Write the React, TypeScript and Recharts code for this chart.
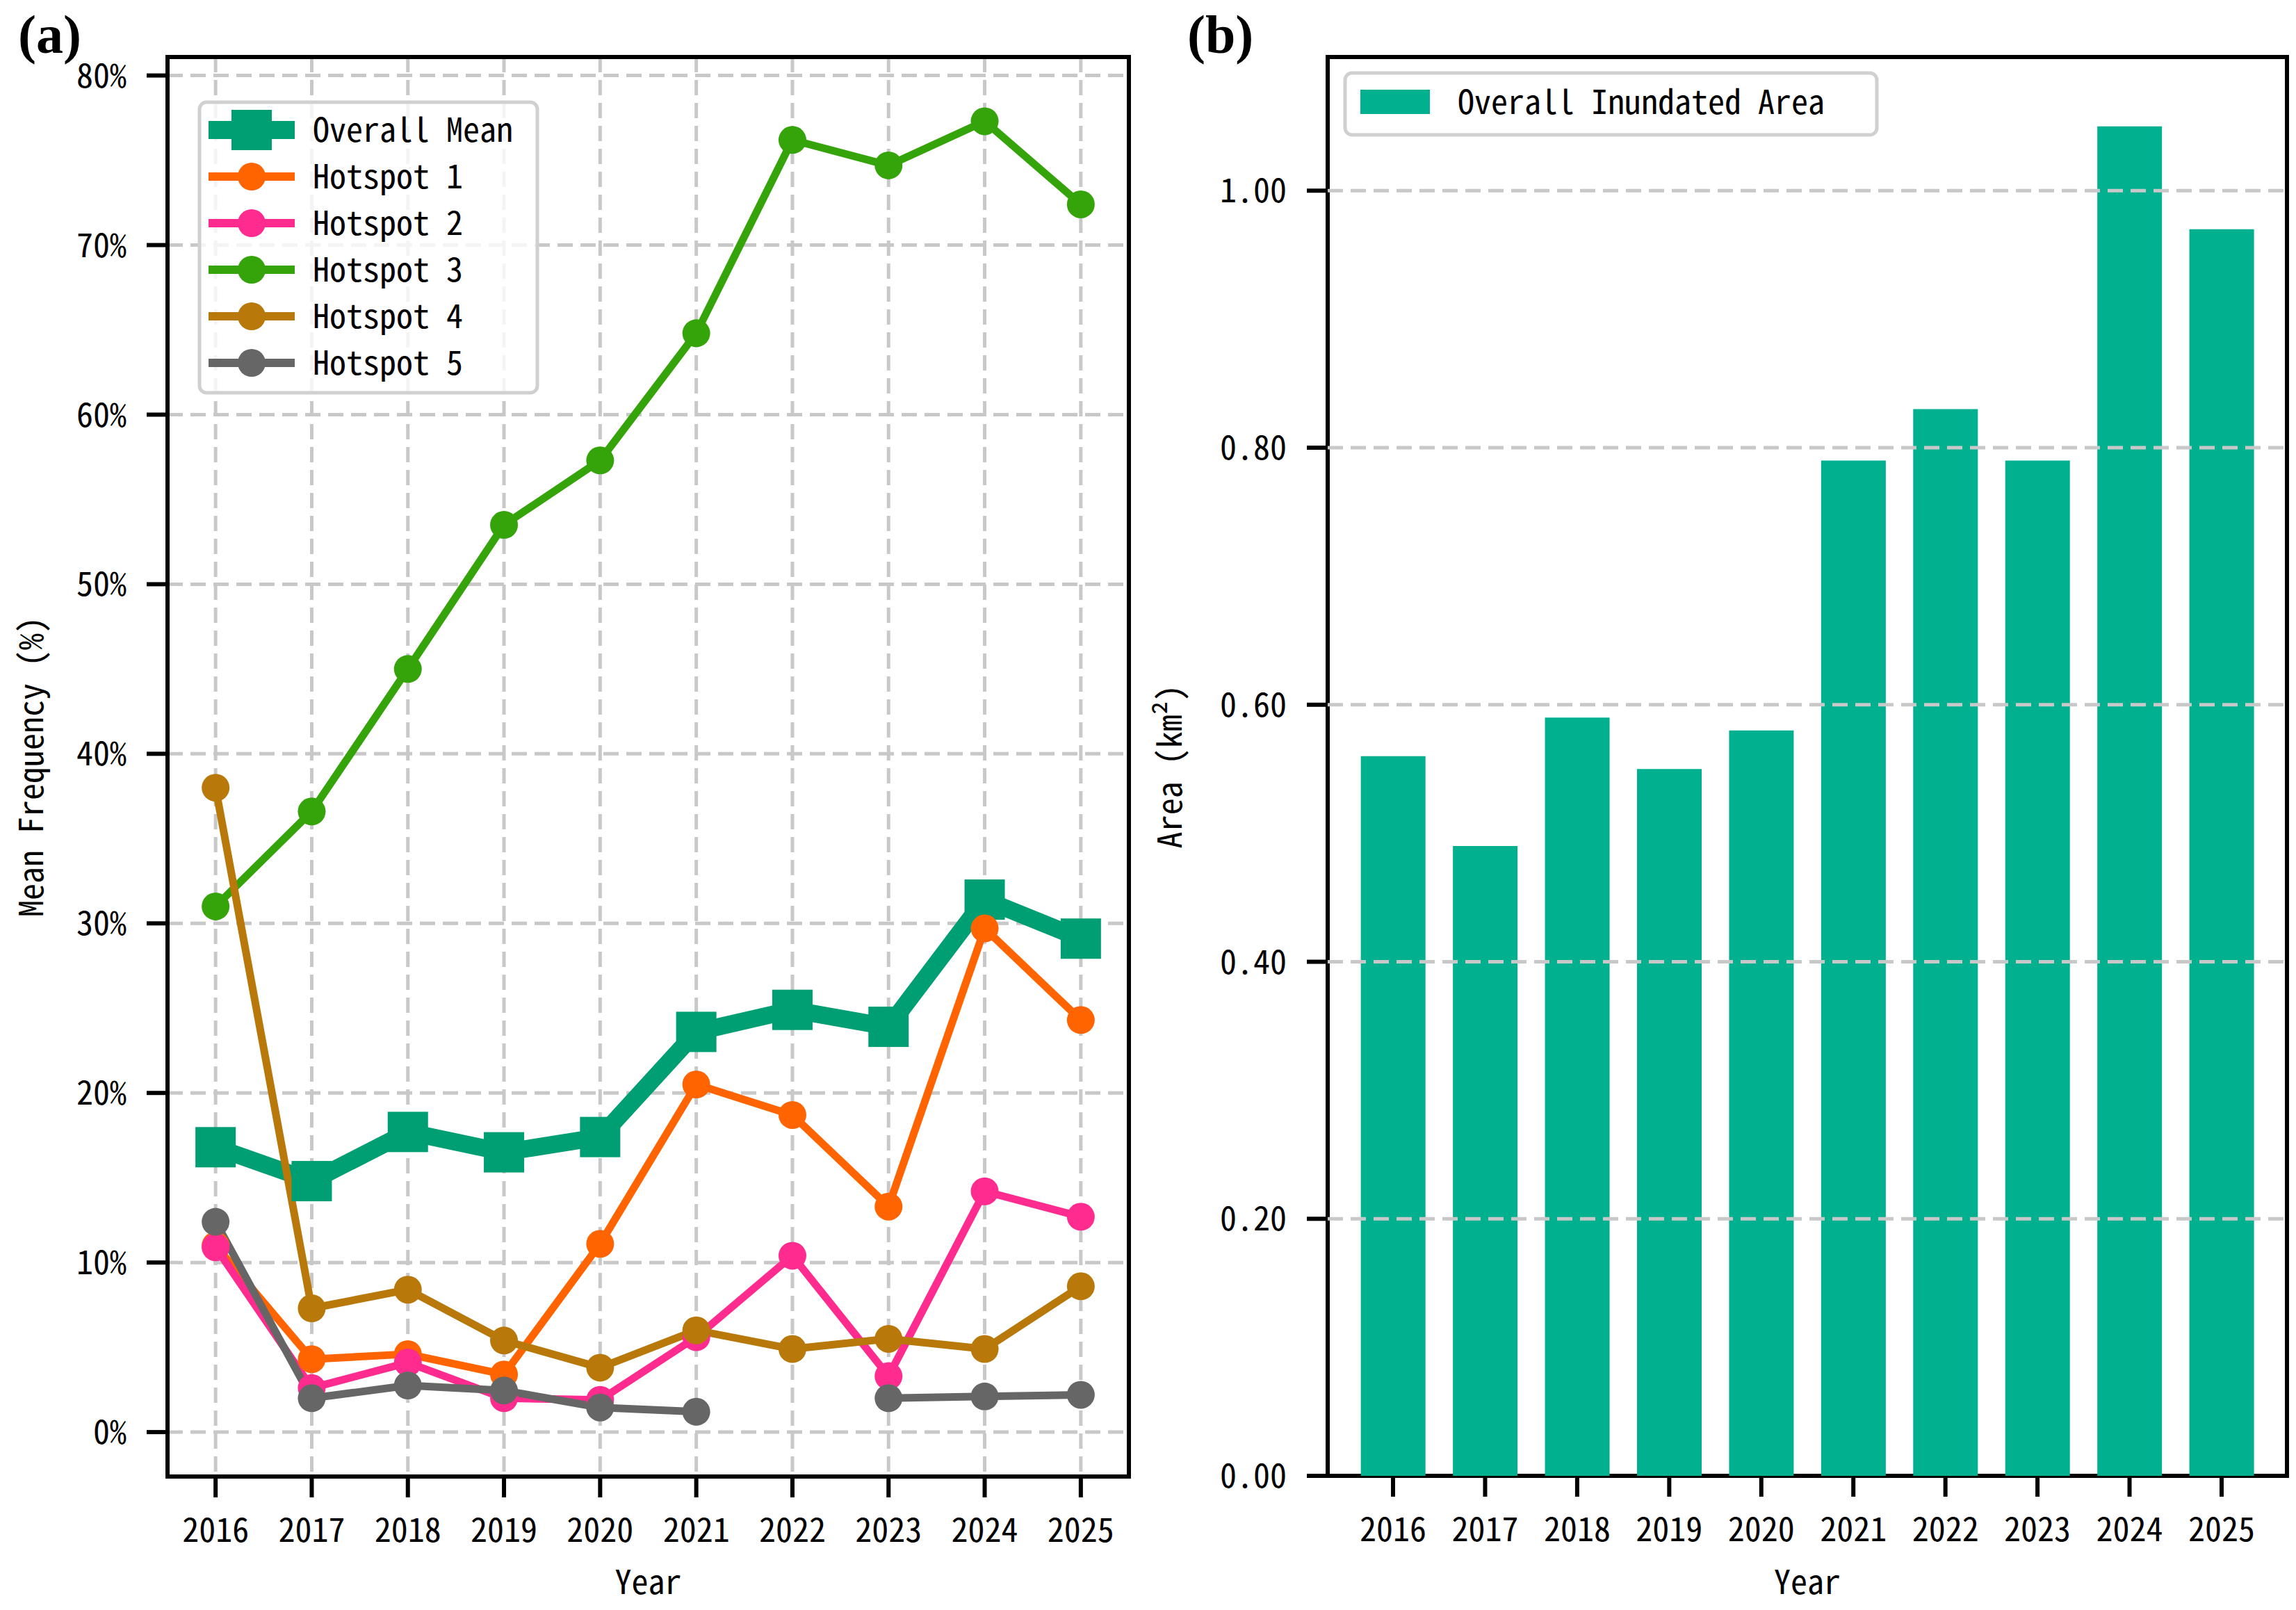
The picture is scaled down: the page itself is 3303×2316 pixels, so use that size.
import React from 'react';
import {
  LineChart, Line, BarChart, Bar, XAxis, YAxis, CartesianGrid,
  ReferenceLine, ReferenceArea, Label,
} from 'recharts';

const YEARS = [2016, 2017, 2018, 2019, 2020, 2021, 2022, 2023, 2024, 2025];

// panel (a) – mean inundation frequency, %
const OVERALL_MEAN = [16.8, 14.8, 17.7, 16.5, 17.4, 23.6, 24.9, 23.9, 31.4, 29.1];
const HOTSPOT_1 = [11.0, 4.3, 4.6, 3.4, 11.1, 20.5, 18.7, 13.3, 29.7, 24.3];
const HOTSPOT_2 = [10.9, 2.6, 4.1, 2.0, 1.9, 5.6, 10.4, 3.3, 14.2, 12.7];
const HOTSPOT_3 = [31.0, 36.6, 45.0, 53.5, 57.3, 64.8, 76.2, 74.7, 77.3, 72.4];
const HOTSPOT_4 = [38.0, 7.3, 8.4, 5.4, 3.8, 6.0, 4.9, 5.5, 4.9, 8.6];
const HOTSPOT_5 = [12.4, 2.0, 2.75, 2.45, 1.45, 1.2, null, 2.0, 2.1, 2.2];

// panel (b) – overall inundated area, km²
const INUNDATED_AREA = [0.56, 0.49, 0.59, 0.55, 0.58, 0.79, 0.83, 0.79, 1.05, 0.97];

const FREQ_TICKS = [0, 10, 20, 30, 40, 50, 60, 70, 80];
const AREA_TICKS = [0, 0.2, 0.4, 0.6, 0.8, 1.0];

const FREQ_DOMAIN: [number, number] = [-2.62, 81.09];
const AREA_DOMAIN: [number, number] = [0, 1.104];

const MONO = "'Noto Sans Mono CJK SC', 'DejaVu Sans Mono', monospace";
const GRID = '#c8c8c8';
const BAR_COLOR = '#00b08f';

const SERIES = [
  { key: 'mean', name: 'Overall Mean', values: OVERALL_MEAN, color: '#009e73', width: 25, square: true },
  { key: 'h1', name: 'Hotspot 1', values: HOTSPOT_1, color: '#ff6400', width: 11, square: false },
  { key: 'h2', name: 'Hotspot 2', values: HOTSPOT_2, color: '#ff2b8f', width: 11, square: false },
  { key: 'h3', name: 'Hotspot 3', values: HOTSPOT_3, color: '#35a40a', width: 11, square: false },
  { key: 'h4', name: 'Hotspot 4', values: HOTSPOT_4, color: '#b8780a', width: 11, square: false },
  { key: 'h5', name: 'Hotspot 5', values: HOTSPOT_5, color: '#666666', width: 11, square: false },
];

const freqData = YEARS.map((year, i) => {
  const row: Record<string, number | null> = { year };
  SERIES.forEach(s => { row[s.key] = s.values[i]; });
  return row;
});

const areaData = YEARS.map((year, i) => ({ year, area: INUNDATED_AREA[i] }));

const tickStyle = { fill: '#000', fontSize: 48, fontFamily: MONO };
const labelStyle = { fill: '#000', fontSize: 48, fontFamily: MONO, textAnchor: 'middle' as const };
const tickLine = { stroke: '#000', strokeWidth: 6 };

const squareDot = (color: string) => (props: any) => {
  const { cx, cy, index } = props;
  if (cx == null || cy == null) return <g key={`sq-${index}`} />;
  return <rect key={`sq-${index}`} x={cx - 29} y={cy - 29} width={58} height={58} fill={color} />;
};

/* ── (a) frequency lines ── */
function FrequencyChart() {
  return (
    <LineChart width={1650} height={2316} data={freqData} margin={{ top: 82, right: 26, bottom: 0, left: 0 }}>
      <CartesianGrid stroke={GRID} strokeWidth={5} strokeDasharray="22 11" />
      <XAxis
        dataKey="year" type="number" domain={[2015.5, 2025.5]} ticks={YEARS} allowDataOverflow
        height={192} axisLine={false} tickLine={tickLine} tickSize={30} tickMargin={30} tick={tickStyle}
      >
        <Label value="Year" position="insideBottom" offset={23} style={labelStyle} />
      </XAxis>
      <YAxis
        type="number" domain={FREQ_DOMAIN} ticks={FREQ_TICKS} allowDataOverflow
        width={241} axisLine={false} tickLine={tickLine} tickSize={30} tickMargin={29} tick={tickStyle}
        tickFormatter={(v: number) => `${v}%`}
      >
        <Label value="Mean Frequency (%)" angle={-90} position="insideLeft" offset={45} style={labelStyle} />
      </YAxis>
      {SERIES.map(s => (
        <Line
          key={s.key}
          dataKey={s.key}
          name={s.name}
          stroke={s.color}
          strokeWidth={s.width}
          strokeLinejoin="round"
          dot={s.square ? squareDot(s.color) : { r: 20, fill: s.color, stroke: 'none' }}
          activeDot={false}
          isAnimationActive={false}
        />
      ))}
      <ReferenceArea y1={FREQ_DOMAIN[0]} y2={FREQ_DOMAIN[1]} ifOverflow="visible" fill="none" stroke="#000" strokeWidth={6} />
    </LineChart>
  );
}

/* ── (b) inundated area bars ── */
function AreaChart() {
  return (
    <BarChart width={1853} height={2316} data={areaData} barCategoryGap="15%" margin={{ top: 82, right: 13, bottom: 0, left: 0 }}>
      <XAxis
        dataKey="year" type="number" domain={[2015.29, 2025.71]} ticks={YEARS} allowDataOverflow
        height={193} axisLine={false} tickLine={tickLine} tickSize={30} tickMargin={30} tick={tickStyle}
      >
        <Label value="Year" position="insideBottom" offset={23} style={labelStyle} />
      </XAxis>
      <YAxis
        type="number" domain={AREA_DOMAIN} ticks={AREA_TICKS} allowDataOverflow
        width={460} axisLine={false} tickLine={tickLine} tickSize={30} tickMargin={29} tick={tickStyle}
        tickFormatter={(v: number) => v.toFixed(2)}
      >
        <Label value="Area (km²)" angle={-90} position="insideLeft" offset={233} style={labelStyle} />
      </YAxis>
      <Bar dataKey="area" fill={BAR_COLOR} isAnimationActive={false} />
      {AREA_TICKS.filter(t => t > 0).map(t => (
        <ReferenceLine key={t} y={t} stroke={GRID} strokeWidth={5} strokeDasharray="22 11" />
      ))}
      <ReferenceArea y1={AREA_DOMAIN[0]} y2={AREA_DOMAIN[1]} ifOverflow="visible" fill="none" stroke="#000" strokeWidth={6} />
    </BarChart>
  );
}

function Legends() {
  return (
    <svg width={3303} height={2316} style={{ position: 'absolute', left: 0, top: 0, pointerEvents: 'none' }}>
      {/* (a) legend */}
      <rect x={287} y={147} width={486} height={418} rx={10} fill="#fff" fillOpacity={0.8} stroke="#d0d0d0" strokeWidth={5} />
      {SERIES.map((s, i) => {
        const y = 187 + i * 67;
        return (
          <g key={s.key}>
            <line x1={300} x2={424} y1={y} y2={y} stroke={s.color} strokeWidth={s.square ? 26 : 12} />
            {s.square
              ? <rect x={333} y={y - 29} width={58} height={58} fill={s.color} />
              : <circle cx={362} cy={y} r={20} fill={s.color} />}
            <text x={450} y={y} dy="0.36em" fontSize={48} fontFamily={MONO} fill="#000">{s.name}</text>
          </g>
        );
      })}
      {/* (b) legend */}
      <rect x={1935} y={105} width={765} height={89} rx={10} fill="#fff" fillOpacity={0.8} stroke="#d0d0d0" strokeWidth={5} />
      <rect x={1957} y={129} width={100} height={35} fill={BAR_COLOR} />
      <text x={2097} y={147} dy="0.36em" fontSize={48} fontFamily={MONO} fill="#000">Overall Inundated Area</text>
      {/* panel tags */}
      <text x={26} y={76} fontSize={78} fontWeight="bold" fontFamily="'Liberation Serif', serif" fill="#000">(a)</text>
      <text x={1708} y={76} fontSize={78} fontWeight="bold" fontFamily="'Liberation Serif', serif" fill="#000">(b)</text>
    </svg>
  );
}

export default function App() {
  return (
    <div style={{ position: 'fixed', left: 0, top: 0, width: 3303, height: 2316, background: '#fff' }}>
      <div style={{ position: 'absolute', left: 0, top: 0 }}>
        <FrequencyChart />
      </div>
      <div style={{ position: 'absolute', left: 1450, top: 0 }}>
        <AreaChart />
      </div>
      <Legends />
    </div>
  );
}
